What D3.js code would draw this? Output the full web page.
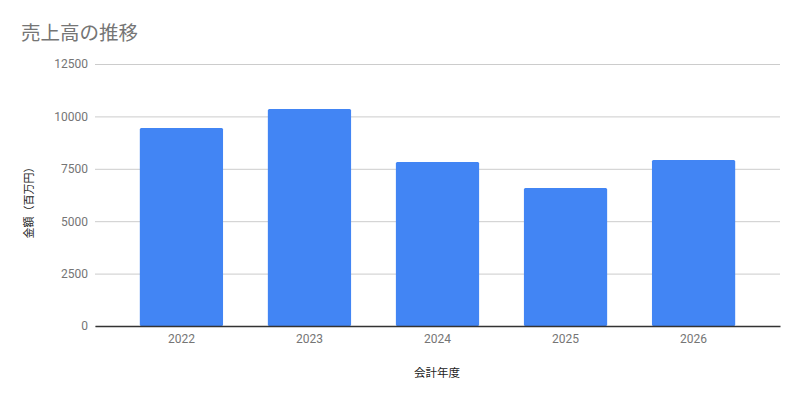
<!DOCTYPE html>
<html>
<head>
<meta charset="utf-8">
<script src="https://cdn.jsdelivr.net/npm/d3@7"></script>
<style>
  body { margin: 0; background: #fff; }
  text { font-family: Roboto, "Noto Sans CJK JP", sans-serif; }
</style>
</head>
<body>
<svg id="chart" width="800" height="400"></svg>
<script>
// data
const years = ["2022", "2023", "2024", "2025", "2026"]
const sales = [9450, 10350, 7820, 6580, 7920]
const yTicks = [0, 2500, 5000, 7500, 10000, 12500]

const svg = d3.select("#chart")
const margin = {top: 64, right: 20, bottom: 74, left: 95},
      width = 800 - margin.left - margin.right,
      height = 400 - margin.top - margin.bottom

const x = d3.scaleBand().domain(years).range([0, width]).padding(0.35)
const y = d3.scaleLinear().domain([0, 12500]).range([height, 0])

svg.append("rect").attr("width", 800).attr("height", 400).attr("fill", "#fff")

svg.append("text")
    .attr("x", 21).attr("y", 40)
    .attr("fill", "#757575")
    .attr("font-size", 19.5)
    .style("font-family", "'Noto Sans CJK JP', sans-serif")
    .text("売上高の推移")

const g = svg.append("g")
    .attr("transform", "translate(" + margin.left + "," + margin.top + ")")

// gridlines + y labels
g.append("g")
    .call(d3.axisLeft(y).tickValues(yTicks).tickFormat(d3.format("d")).tickSize(-width).tickPadding(7))
    .call(a => a.select(".domain").remove())
    .call(a => a.selectAll("line").attr("stroke", "#cccccc"))
    .call(a => a.selectAll("text").attr("fill", "#757575").attr("font-size", 12))

g.selectAll(".bar")
  .data(sales)
  .enter().append("rect")
    .attr("class", "bar")
    .attr("x", (d, i) => x(years[i]))
    .attr("y", d => y(d))
    .attr("width", x.bandwidth())
    .attr("height", d => height - y(d))
    .attr("rx", 1.5)
    .attr("fill", "#4285f4")

// x axis (baseline drawn over the bars)
g.append("g")
    .attr("transform", "translate(0," + height + ")")
    .call(d3.axisBottom(x).tickSize(0).tickPadding(8))
    .call(a => a.select(".domain").attr("stroke", "#333").attr("stroke-width", 1.3))
    .call(a => a.selectAll("text").attr("fill", "#757575").attr("font-size", 12))

svg.append("text")
    .attr("x", 437).attr("y", 377)
    .attr("text-anchor", "middle")
    .attr("fill", "#222")
    .attr("font-size", 11.5)
    .style("font-family", "'Noto Sans CJK JP', sans-serif")
    .text("会計年度")

svg.append("text")
    .attr("transform", "translate(33,200) rotate(-90)")
    .attr("text-anchor", "middle")
    .attr("fill", "#222")
    .attr("font-size", 11)
    .style("font-family", "'Noto Sans CJK JP', sans-serif")
    .text("金額（百万円）")
</script>
</body>
</html>
